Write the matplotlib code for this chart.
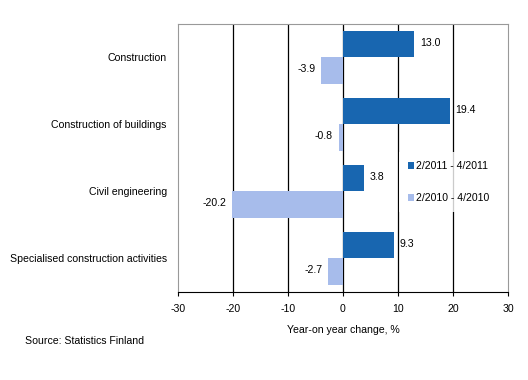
import matplotlib
matplotlib.use("Agg")
import matplotlib.pyplot as plt
import numpy as np

plt.rcParams['font.family'] = ['Liberation Sans', 'DejaVu Sans']

categories = ["Construction", "Construction of buildings", "Civil engineering",
              "Specialised construction activities"]
series_names = ["2/2011 - 4/2011", "2/2010 - 4/2010"]
values_2011 = [13.0, 19.4, 3.8, 9.3]
values_2010 = [-3.9, -0.8, -20.2, -2.7]
xticks = [-30, -20, -10, 0, 10, 20, 30]

dark = '#1866b0'
light = '#a7bceb'
fs = 7.6

fig = plt.figure(figsize=(5.28, 3.8), dpi=100)
ax = fig.add_axes([0.337, 0.232, 0.625, 0.705])

pos = np.arange(len(categories))
h = 0.4
b1 = ax.barh(pos - h / 2, values_2011, height=h, color=dark, label=series_names[0], zorder=3)
b2 = ax.barh(pos + h / 2, values_2010, height=h, color=light, label=series_names[1], zorder=3)

# value labels
for bars, vals in ((b1, values_2011), (b2, values_2010)):
	for r, v in zip(bars, vals):
		cy = r.get_y() + r.get_height() / 2
		off = 4 if v >= 0 else -4
		ax.annotate("%.1f" % v, (v, cy), xytext=(off, 1), textcoords='offset points',
					ha='left' if v >= 0 else 'right', va='center', fontsize=fs, zorder=4)

ax.set_xlim(-30, 30)
ax.set_ylim(len(categories) - 0.5, -0.5)
ax.set_xticks(xticks)
ax.set_xticklabels([str(t) for t in xticks], fontsize=fs)
ax.set_yticks(pos)
ax.set_yticklabels(categories, fontsize=fs)
ax.tick_params(axis='y', length=0, pad=8)
ax.tick_params(axis='x', length=3, direction='out', pad=6, color='black')

for x in [-20, -10, 0, 10, 20]:
	ax.axvline(x, color='black', linewidth=0.9, zorder=1)

for s in ['left', 'top', 'right']:
	ax.spines[s].set_color('#999999')
ax.spines['bottom'].set_color('black')

ax.set_xlabel("Year-on year change, %", fontsize=fs, labelpad=8)

leg = ax.legend(loc='center left', bbox_to_anchor=(0.655, 0.41), fontsize=fs, frameon=True,
				handlelength=0.6, handleheight=0.6, handletextpad=0.2, labelspacing=2.1,
				borderpad=0.8, fancybox=False)
leg.get_frame().set_facecolor('white')
leg.get_frame().set_edgecolor('none')
leg.set_zorder(2)

fig.text(25 / 528, 1 - 341 / 380, "Source: Statistics Finland", fontsize=fs, va='center')

fig.savefig("out.png", dpi=100)
